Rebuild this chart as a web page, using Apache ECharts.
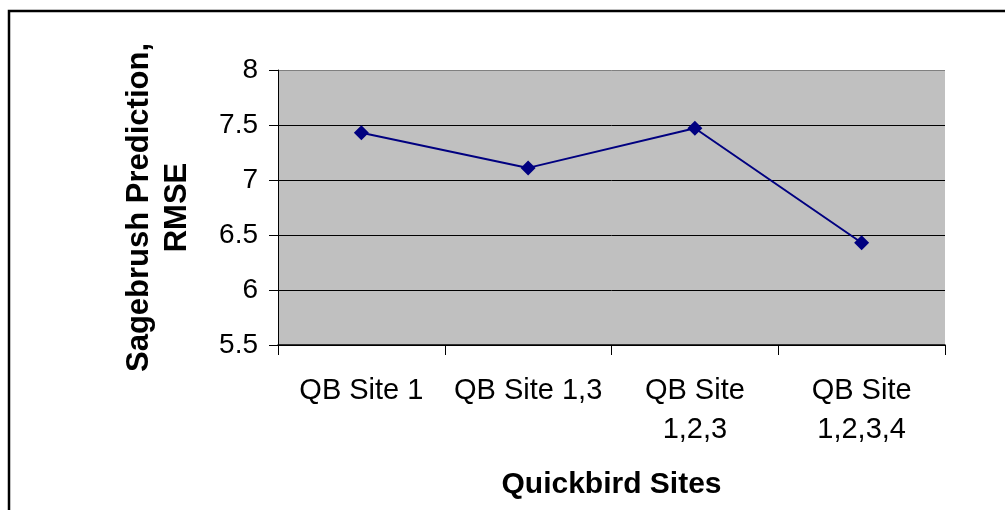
<!DOCTYPE html>
<html>
<head>
<meta charset="utf-8">
<title>Sagebrush Prediction RMSE</title>
<script src="https://cdn.jsdelivr.net/npm/echarts@6.0.0/dist/echarts.min.js"></script>
<style>
  html, body { margin: 0; padding: 0; background: #fff; }
  #rmse-chart { width: 1005px; height: 510px; }
</style>
</head>
<body>
<div id="rmse-chart"></div>
<script>
// data
var sites = ['QB Site 1', 'QB Site 1,3', 'QB Site\n1,2,3', 'QB Site\n1,2,3,4'];
var rmse = [7.43, 7.11, 7.47, 6.43];
var yTicks = [5.5, 6, 6.5, 7, 7.5, 8];

var font = "'Liberation Sans', Arial, sans-serif";

function drawChart() {
	var chart = echarts.init(document.getElementById('rmse-chart'));
	var option = {
		backgroundColor: '#fff',
		animation: false,
		textStyle: { fontFamily: font },
		graphic: [{
			type: 'rect',
			z: -1,
			shape: { x: 9, y: 11, width: 1100, height: 600 },
			style: { fill: 'none', stroke: '#000', lineWidth: 2.5 }
		}],
		grid: {
			left: 278,
			right: 60,
			top: 70,
			bottom: 165,
			show: true,
			backgroundColor: '#c0c0c0',
			borderWidth: 0
		},
		xAxis: {
			type: 'category',
			data: sites,
			boundaryGap: true,
			name: 'Quickbird Sites',
			nameLocation: 'middle',
			nameGap: 125,
			nameTextStyle: { fontSize: 30, fontWeight: 'bold', color: '#000', fontFamily: font, lineHeight: 30 },
			axisLine: { lineStyle: { color: '#000', width: 1.5 } },
			axisTick: { show: true, length: 10, lineStyle: { color: '#000' } },
			axisLabel: {
				interval: 0,
				margin: 26,
				fontSize: 29,
				lineHeight: 39,
				color: '#000',
				fontFamily: font
			},
			splitLine: { show: false }
		},
		yAxis: {
			type: 'value',
			min: yTicks[0],
			max: yTicks[yTicks.length - 1],
			interval: 0.5,
			name: 'Sagebrush Prediction,\nRMSE',
			nameLocation: 'middle',
			nameRotate: 90,
			nameGap: 82,
			nameTextStyle: { fontSize: 31, fontWeight: 'bold', color: '#000', fontFamily: font, lineHeight: 38, align: 'center' },
			axisLine: { show: true, lineStyle: { color: '#000', width: 1 } },
			axisTick: { show: true, length: 9, lineStyle: { color: '#000' } },
			axisLabel: { margin: 20, fontSize: 28, color: '#000', fontFamily: font },
			splitLine: {
				show: true,
				lineStyle: { color: ['#000', '#000', '#000', '#000', '#000', '#808080'], width: 1 }
			}
		},
		series: [{
			name: 'RMSE',
			type: 'line',
			data: rmse,
			symbol: 'diamond',
			symbolSize: 15,
			itemStyle: { color: '#000080' },
			lineStyle: { color: '#000080', width: 2 }
		}]
	};
	chart.setOption(option, true);
}

drawChart();
</script>
</body>
</html>
